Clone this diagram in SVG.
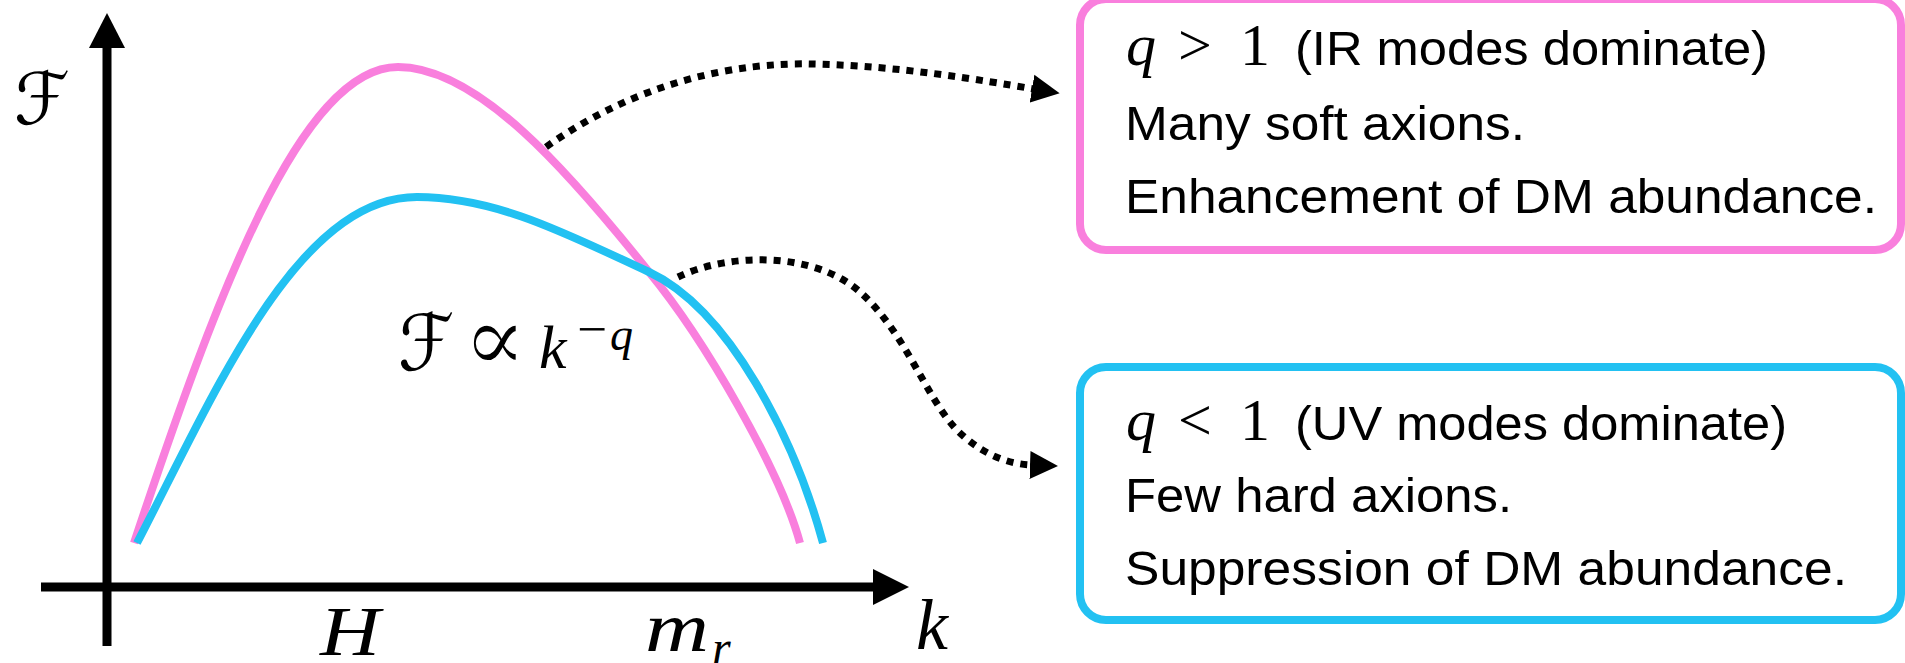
<svg xmlns="http://www.w3.org/2000/svg" width="1905" height="663" viewBox="0 0 1905 663">
<style>
.axis{stroke:#000;stroke-width:9;fill:none}
.head{fill:#000}
.pink{stroke:#F97FDD;stroke-width:8;fill:none}
.blue{stroke:#22C1F2;stroke-width:8;fill:none}
.dot{stroke:#000;stroke-width:7;fill:none;stroke-dasharray:7 7}
.math{font-family:"Liberation Serif","DejaVu Serif",serif;font-style:italic;fill:#000}
.mathr{font-family:"Liberation Serif","DejaVu Serif",serif;fill:#000}
.cal{font-family:"DejaVu Sans","DejaVu Serif",serif;fill:#000}
.body{font-family:"Liberation Sans",Arial,sans-serif;font-size:49px;fill:#000}
.boxp{fill:#fff;stroke:#F97FDD;stroke-width:8}
.boxb{fill:#fff;stroke:#22C1F2;stroke-width:8}
</style>
<defs>
<marker id="arr" markerUnits="userSpaceOnUse" markerWidth="30" markerHeight="30" refX="2" refY="14" orient="auto" viewBox="0 0 30 28">
<path d="M0,0 L28,14 L0,28 Z" fill="#000"/>
</marker>
</defs>
<rect width="1905" height="663" fill="#fff"/>
<g id="axes">
<line class="axis" x1="107" y1="646" x2="107" y2="46"/>
<polygon class="head" points="89,48 125,48 107,13"/>
<line class="axis" x1="41" y1="587" x2="875" y2="587"/>
<polygon class="head" points="873,569 873,605 909,587"/>
<text class="cal" x="14" y="124" font-size="72" textLength="56" lengthAdjust="spacingAndGlyphs">ℱ</text>
<text class="math" x="320" y="655" font-size="70" textLength="60" lengthAdjust="spacingAndGlyphs">H</text>
<text class="math" x="645" y="651" font-size="70" textLength="64" lengthAdjust="spacingAndGlyphs">m</text>
<text class="math" x="712" y="664" font-size="48">r</text>
<text class="math" x="916" y="649" font-size="72">k</text>
</g>
<g id="curves">
<path id="pink-curve" class="pink" d="M134,543 C215,300 300,67 398,67 C478,67 569,172 649,272 C705,340 780,470 800,543"/>
<path id="blue-curve" class="blue" d="M137,543 C215,393 297,197 417,197 C497,197 569,235 649,272 C730,310 795,440 823,543"/>
</g>
<g id="formula">
<text class="cal" x="398" y="370" font-size="78" textLength="56" lengthAdjust="spacingAndGlyphs">ℱ</text>
<text x="463" y="371" font-size="94" font-family="DejaVu Serif" fill="#000" stroke="#fff" stroke-width="1.5">∝</text>
<text class="math" x="539" y="368" font-size="62">k</text>
<text class="mathr" x="577" y="346" font-size="50" textLength="30" lengthAdjust="spacingAndGlyphs">−</text>
<text class="math" x="610" y="350" font-size="46">q</text>
</g>
<g id="connectors">
<path class="dot" d="M546,147 C640,80 740,62 814,64 C900,66 980,80 1034,89" marker-end="url(#arr)"/>
<path class="dot" d="M678,277 C730,252 815,252 860,292 C905,332 925,395 955,428 C978,452 1005,464 1032,465" marker-end="url(#arr)"/>
</g>
<g id="box-ir">
<rect class="boxp" x="1080" y="-1" width="821" height="251" rx="26" ry="26"/>
<text class="math" x="1126" y="65" font-size="60">q</text>
<text class="mathr" x="1178" y="65" font-size="60">&gt;</text>
<text class="mathr" x="1240" y="65" font-size="60">1</text>
<text class="body" x="1295" y="65" textLength="473" lengthAdjust="spacingAndGlyphs">(IR modes dominate)</text>
<text class="body" x="1125" y="140" textLength="400" lengthAdjust="spacingAndGlyphs">Many soft axions.</text>
<text class="body" x="1125" y="213" textLength="752" lengthAdjust="spacingAndGlyphs">Enhancement of DM abundance.</text>
</g>
<g id="box-uv">
<rect class="boxb" x="1080" y="367" width="821" height="253" rx="26" ry="26"/>
<text class="math" x="1126" y="440" font-size="60">q</text>
<text class="mathr" x="1178" y="440" font-size="60">&lt;</text>
<text class="mathr" x="1240" y="440" font-size="60">1</text>
<text class="body" x="1295" y="440" textLength="492" lengthAdjust="spacingAndGlyphs">(UV modes dominate)</text>
<text class="body" x="1125" y="512" textLength="387" lengthAdjust="spacingAndGlyphs">Few hard axions.</text>
<text class="body" x="1125" y="585" textLength="722" lengthAdjust="spacingAndGlyphs">Suppression of DM abundance.</text>
</g>
</svg>
